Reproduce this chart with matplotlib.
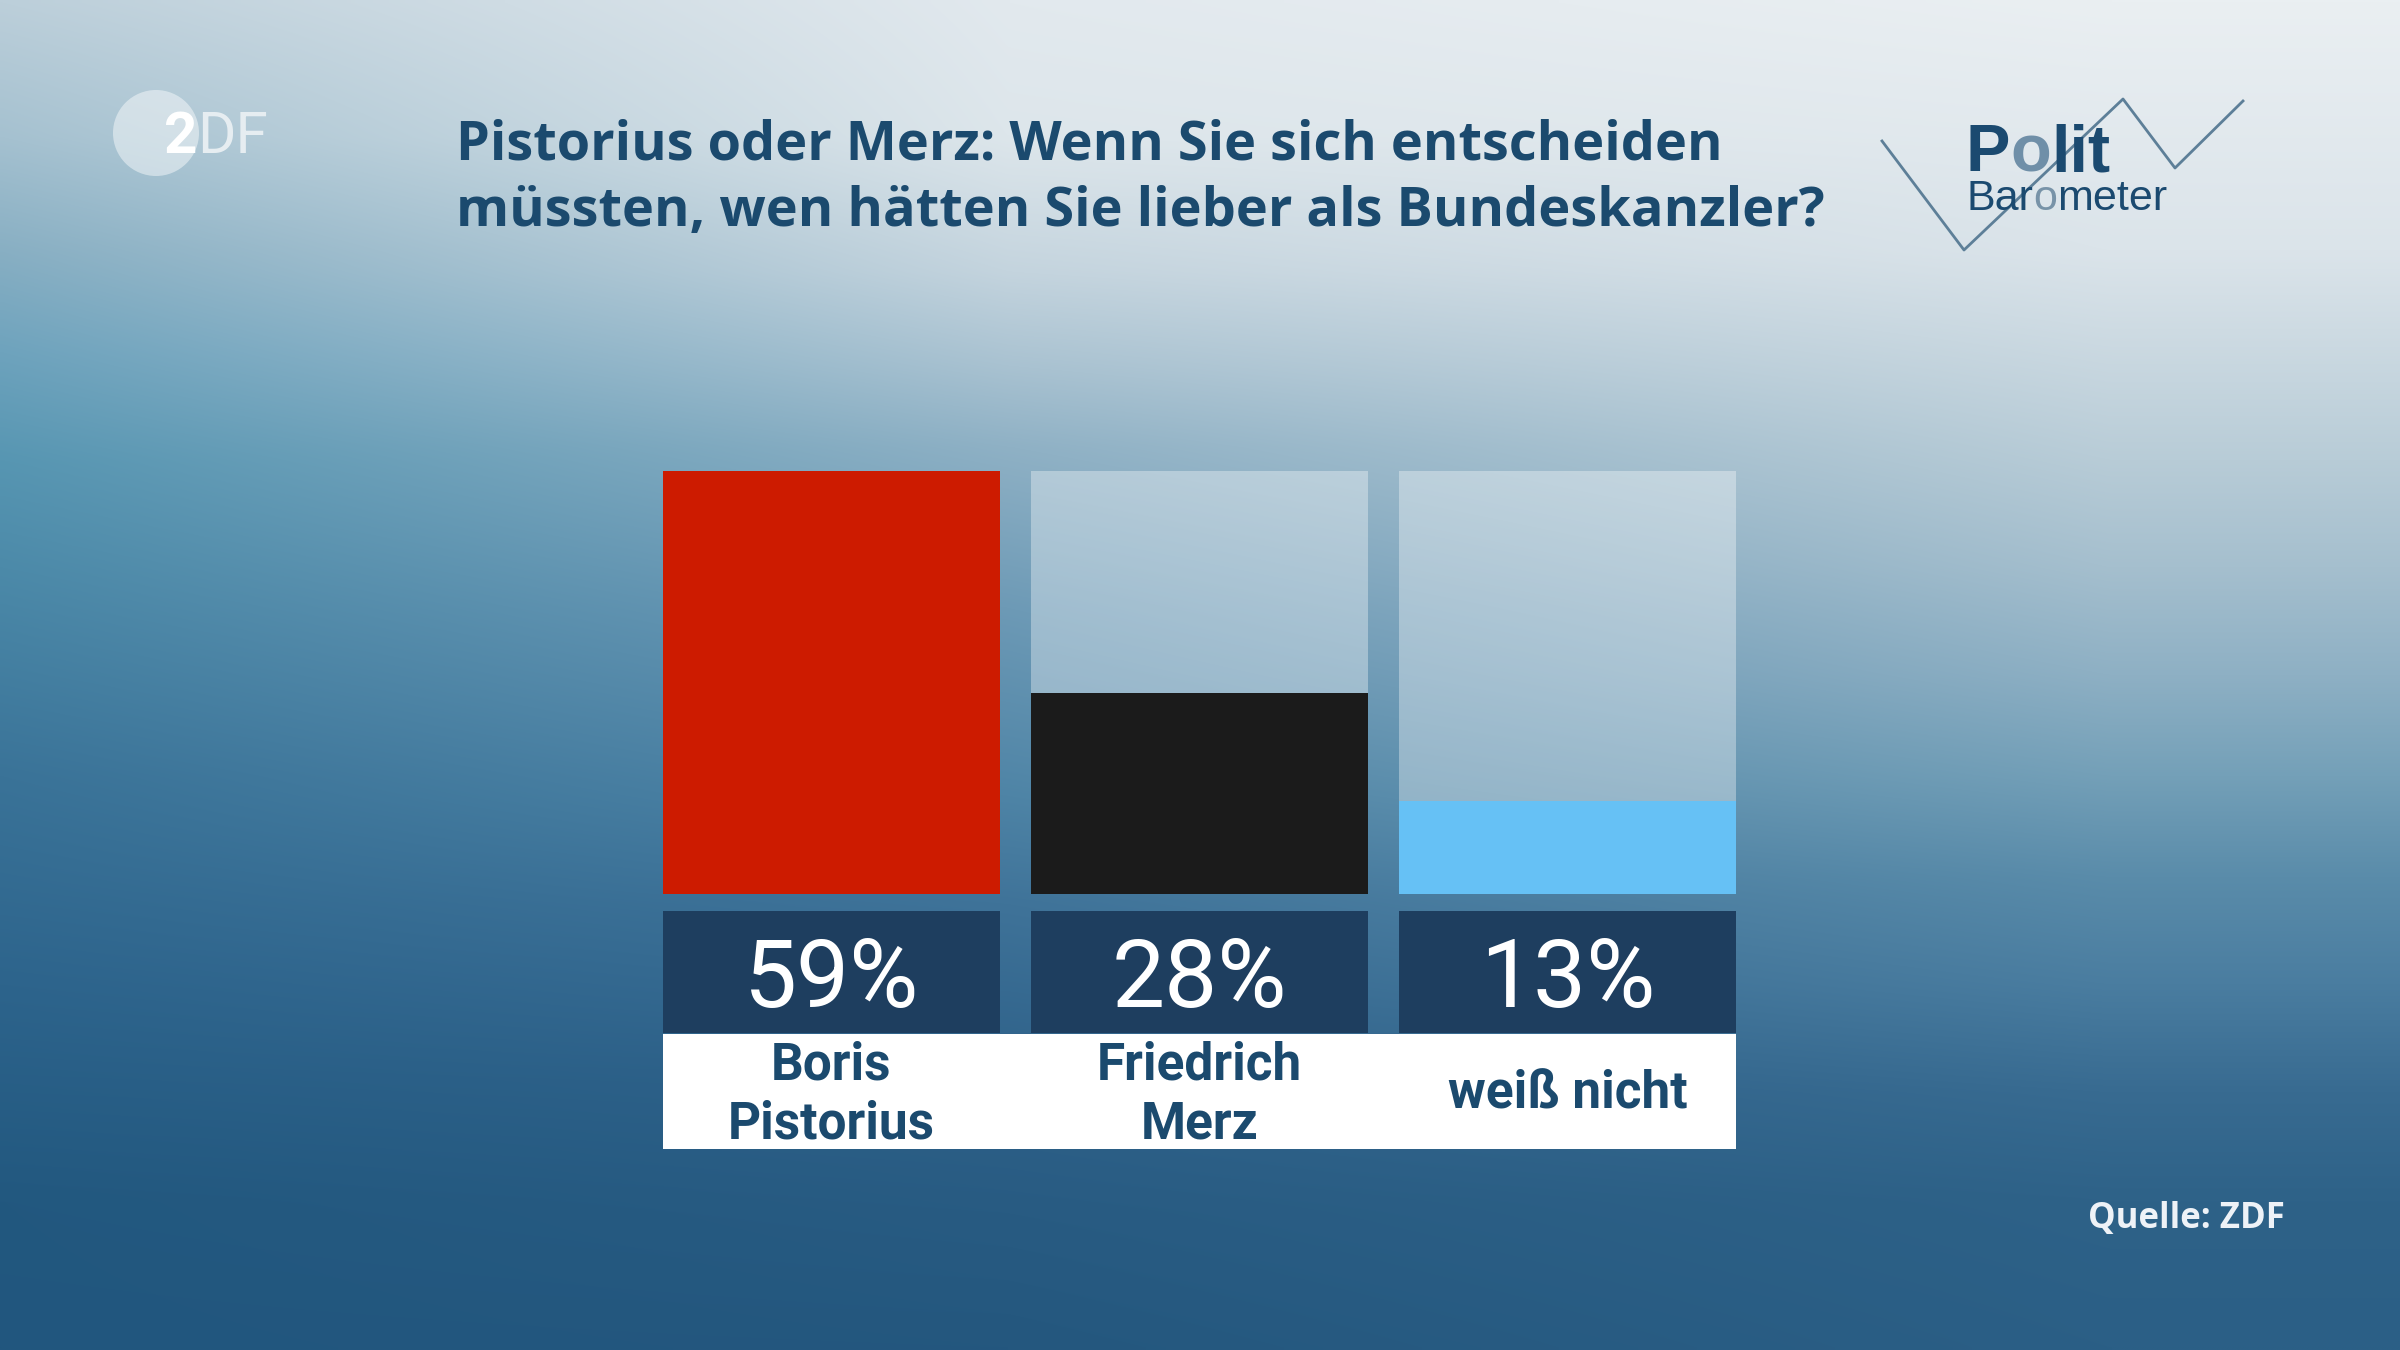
import numpy as np
import matplotlib
matplotlib.use('Agg')
import matplotlib.pyplot as plt
from matplotlib.colors import to_rgb
from matplotlib.patches import Ellipse
from matplotlib.lines import Line2D

# Data
categories = ['Boris\nPistorius', 'Friedrich\nMerz', 'weiß nicht']
values = [59, 28, 13]
value_labels = ['59%', '28%', '13%']
bar_colors = ['#cd1b00', '#1b1b1b', '#66c1f5']

title_lines = ['Pistorius oder Merz: Wenn Sie sich entscheiden',
               'müssten, wen hätten Sie lieber als Bundeskanzler?']
source = 'Quelle: ZDF'

NAVY = '#1b4a6e'
W, H = 2400, 1350


def fx(px):
    return px / W


def fy(py):
    return 1 - py / H


fig = plt.figure(figsize=(12, 6.75), dpi=200)
renderer = fig.canvas.get_renderer()

# background: vertical colour profiles at a few x positions, blended across
left_prof = [(0.0, '#bccfda'), (0.1, '#a5c1d0'), (0.185, '#88afc3'), (0.26, '#6ea3bd'),
             (0.34, '#5796b2'), (0.42, '#4c8aa9'), (0.575, '#3a7398'), (0.73, '#2d648c'),
             (0.89, '#22587f'), (1.0, '#21567e')]
mid_prof = [(0.0, '#e2e9ee'), (0.1, '#dde6eb'), (0.2, '#c4d4de'), (0.27, '#a9c2d1'),
            (0.33, '#8fb1c5'), (0.45, '#6d9ab6'), (0.59, '#4e84a6'), (0.67, '#3f7399'),
            (0.8, '#2e6189'), (0.9, '#285b82'), (1.0, '#24577e')]
right_prof = [(0.0, '#eaeff2'), (0.185, '#dbe4ea'), (0.34, '#b8ccd7'), (0.42, '#a5bfce'),
              (0.5, '#8eb0c4'), (0.575, '#74a0b8'), (0.65, '#5a8caa'), (0.73, '#4a7da0'),
              (0.81, '#386b91'), (0.89, '#2e6288'), (1.0, '#2b5f86')]


def profile(stops, ys):
    ps = np.array([p for p, _ in stops])
    cols = np.array([to_rgb(c) for _, c in stops])
    return np.stack([np.interp(ys, ps, cols[:, k]) for k in range(3)], axis=-1)


ys = np.linspace(0, 1, 270)
xs = np.linspace(0, 1, 480)
col_x = [0.0, 0.42, 0.88, 1.0]
profs = [profile(left_prof, ys), profile(mid_prof, ys), profile(right_prof, ys),
         profile(right_prof, ys)]
img = np.zeros((len(ys), len(xs), 3))
for k in range(3):
    P = np.stack([p[:, k] for p in profs], axis=1)
    img[:, :, k] = np.array([np.interp(xs, col_x, row) for row in P])

bg = fig.add_axes([0, 0, 1, 1])
bg.imshow(img, extent=[0, 1, 0, 1], aspect='auto', interpolation='bilinear', origin='upper')
bg.axis('off')

# bars
x = np.arange(len(values))
bw = 337 / 368
left, right = 663 / W, 1736 / W
xlim = (-bw / 2, len(values) - 1 + bw / 2)

ax = fig.add_axes([left, fy(894), right - left, (894 - 471) / H])
ax.bar(x, [max(values)] * len(values), width=bw, color='white', alpha=0.35)
ax.bar(x, values, width=bw, color=bar_colors)
ax.set_xlim(*xlim)
ax.set_ylim(0, max(values))
ax.axis('off')

# value boxes
axv = fig.add_axes([left, fy(1033), right - left, (1033 - 911) / H])
axv.bar(x, 1, width=bw, color='#1e3e5f')
for xi, lab in zip(x, value_labels):
    axv.text(xi, 0.5, lab, ha='center', va='center_baseline', color='white',
             fontsize=34, family='Roboto')
axv.set_xlim(*xlim)
axv.set_ylim(0, 1)
axv.axis('off')

# label strip
axl = fig.add_axes([left, fy(1149), right - left, (1149 - 1034) / H])
axl.set_facecolor('white')
axl.set_xlim(*xlim)
axl.set_ylim(0, 1)
axl.set_xticks([])
axl.set_yticks([])
for sp in axl.spines.values():
    sp.set_visible(False)
for xi, cat in zip(x, categories):
    axl.text(xi, 0.47, cat, ha='center', va='center', color=NAVY, fontsize=18.5,
             fontweight='bold', family='Roboto', linespacing=1.22)

# title, sized so the second line spans the same width as in the original
t1 = fig.text(fx(456), fy(159), title_lines[0], fontsize=19, fontweight='bold',
              color=NAVY, family='Open Sans', va='baseline')
t2 = fig.text(fx(456), fy(226), title_lines[1], fontsize=19, fontweight='bold',
              color=NAVY, family='Open Sans', va='baseline')
w2 = t2.get_window_extent(renderer).width
fs = 19 * 1368 / w2
t1.set_fontsize(fs)
t2.set_fontsize(fs)

# source
fig.text(fx(2285), fy(1214), source, ha='right', va='center_baseline', fontsize=12.5,
         color='#eef2f7', family='Open Sans', fontweight='bold')


def put_pieces(x0, y0, pieces, **kw):
    xp = x0
    for txt, c, wgt in pieces:
        t = fig.text(fx(xp), fy(y0), txt, color=c, va='baseline', fontweight=wgt, **kw)
        xp = t.get_window_extent(renderer).x1


# ZDF logo
fig.add_artist(Ellipse((fx(156), fy(133)), 86 / W, 86 / H, transform=fig.transFigure,
                       facecolor='white', alpha=0.45, edgecolor='none'))
put_pieces(164, 153, [('2', '#ffffff', 'bold'), ('DF', '#e6edf1', 'normal')],
           fontsize=21, family='Roboto')

# Politbarometer logo
zx = [1882, 1964, 2123, 2175, 2243]
zy = [141, 250, 99, 168, 101]
fig.add_artist(Line2D([fx(p) for p in zx], [fy(p) for p in zy], color='#5d7f98',
                      lw=1.0, transform=fig.transFigure))
put_pieces(1966, 171, [('P', '#1b4a70', 'bold'), ('o', '#6f8fa8', 'bold'),
                       ('lit', '#1b4a70', 'bold')],
           fontsize=24, family='Liberation Sans')
put_pieces(1966, 210, [('Bar', '#1b4a70', 'normal'), ('o', '#7893a8', 'normal'),
                       ('meter', '#1b4a70', 'normal')],
           fontsize=15.5, family='Liberation Sans')

fig.savefig('out.png', dpi=200)
